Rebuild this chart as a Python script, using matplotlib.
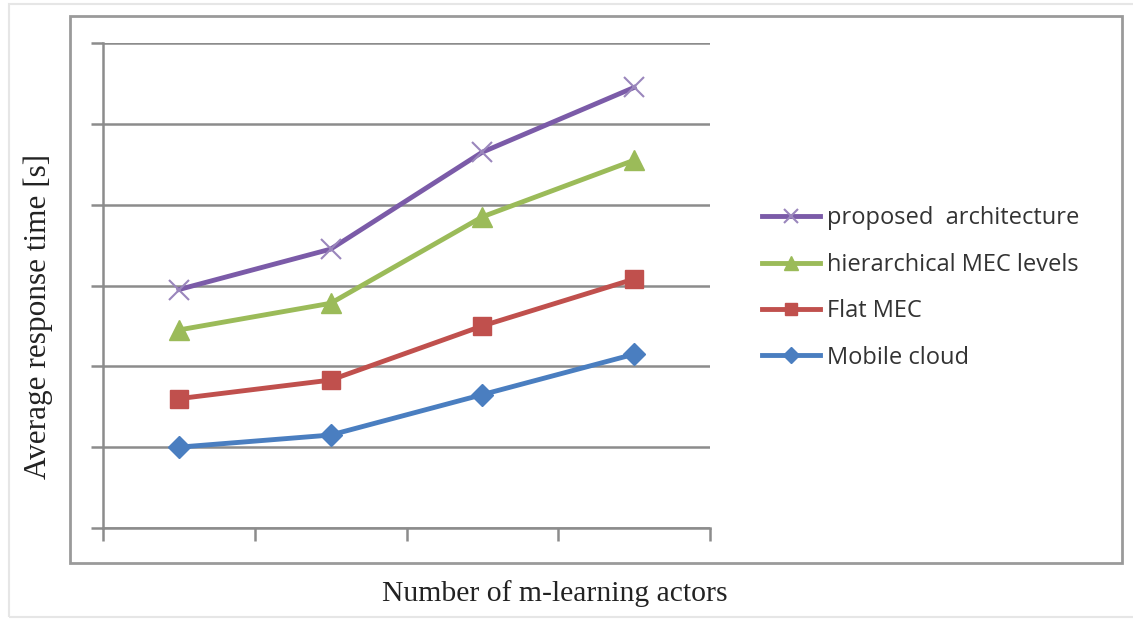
import matplotlib
matplotlib.use("Agg")
import matplotlib.pyplot as plt
from matplotlib.patches import Rectangle

# response times per group size (four groups of m-learning actors)
groups = [0.5, 1.5, 2.5, 3.5]
proposed = [2.95, 3.45, 4.65, 5.45]
hierarchical = [2.45, 2.78, 3.85, 4.55]
flat_mec = [1.6, 1.83, 2.5, 3.08]
mobile_cloud = [1.0, 1.15, 1.65, 2.15]

labels = ["proposed  architecture", "hierarchical MEC levels", "Flat MEC", "Mobile cloud"]
colors = ["#7B5BA8", "#9BBB59", "#C0504D", "#4A7EC0"]

W, H = 1133, 619
fig = plt.figure(figsize=(W / 100, H / 100), dpi=100)

# outer frame and chart frame
fig.patches.append(Rectangle((9 / W, 1 - 617 / H), (1140 - 9) / W, (617 - 4) / H,
                             transform=fig.transFigure, fill=False,
                             edgecolor="#e6e6e6", linewidth=1.5))
fig.patches.append(Rectangle((70 / W, 1 - 563 / H), (1122 - 70) / W, (563 - 16) / H,
                             transform=fig.transFigure, fill=False,
                             edgecolor="#9a9a9a", linewidth=2))

ax = fig.add_axes([103 / W, 1 - 528 / H, (710 - 103) / W, (528 - 43) / H])

ax.plot(groups, proposed, color=colors[0], lw=3.5, marker="x", ms=15, mew=1.5,
        mec="#9A86BC", label=labels[0], zorder=5)
ax.plot(groups, hierarchical, color=colors[1], lw=3.5, marker="^", ms=14,
        label=labels[1], zorder=5)
ax.plot(groups, flat_mec, color=colors[2], lw=3.5, marker="s", ms=13,
        label=labels[2], zorder=5)
ax.plot(groups, mobile_cloud, color=colors[3], lw=3.5, marker="D", ms=11,
        label=labels[3], zorder=5)

ax.set_xlim(0, 4)
ax.set_ylim(0, 6)
ax.set_xticks(range(5))
ax.set_yticks(range(7))
ax.set_xticklabels([])
ax.set_yticklabels([])
ax.tick_params(axis="both", color="#8c8c8c", width=1.8, length=9)
ax.grid(axis="y", color="#8c8c8c", linewidth=1.8)
ax.set_axisbelow(True)
for side in ["top", "right"]:
    ax.spines[side].set_visible(False)
for side in ["left", "bottom"]:
    ax.spines[side].set_color("#8c8c8c")
    ax.spines[side].set_linewidth(1.8)

fig.text(38 / W, 1 - 316 / H, "Average response time [s]", rotation=90,
         ha="center", va="center", family="Liberation Serif", fontsize=22.5,
         color="#222222")
fig.text(555 / W, 1 - 594 / H, "Number of m-learning actors",
         ha="center", va="center", family="Liberation Serif", fontsize=21.3,
         color="#222222")

fig.legend(loc="center left", bbox_to_anchor=(741 / W, 1 - 288 / H),
           frameon=False, prop={"family": "Open Sans", "size": 17},
           handlelength=2.45, handletextpad=0.3, labelspacing=0.95,
           markerscale=0.7, labelcolor="#333333")

fig.savefig("out.png", dpi=100)
